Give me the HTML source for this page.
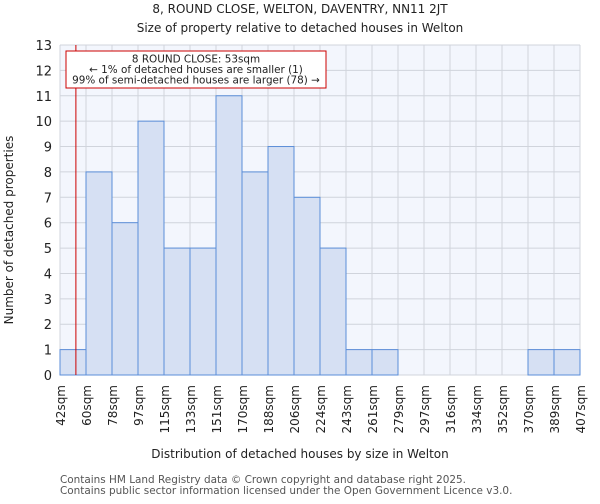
<!DOCTYPE html>
<html><head><meta charset="utf-8"><style>
body{margin:0;background:#fff;font-family:"DejaVu Sans","Liberation Sans",sans-serif;}
</style></head><body>
<svg id="chart" width="600" height="500" xmlns="http://www.w3.org/2000/svg" font-family="DejaVu Sans, Liberation Sans, sans-serif">
<text x="300" y="13" text-anchor="middle" font-size="12" fill="#222">8, ROUND CLOSE, WELTON, DAVENTRY, NN11 2JT</text>
<text x="300" y="32" text-anchor="middle" font-size="12" fill="#222">Size of property relative to detached houses in Welton</text>
<rect x="60" y="45" width="520" height="330" fill="#f3f6fd"/>
<g id="grid"></g>
<g id="bars"></g>
<g id="xticks"></g>
<g id="yticks"></g>
<text x="300" y="458" text-anchor="middle" font-size="12" fill="#222">Distribution of detached houses by size in Welton</text>
<text transform="translate(13,230) rotate(-90)" text-anchor="middle" font-size="12" fill="#222">Number of detached properties</text>
<text x="60" y="483" font-size="10.45" fill="#555">Contains HM Land Registry data © Crown copyright and database right 2025.</text>
<text x="60" y="494" font-size="10.45" fill="#555">Contains public sector information licensed under the Open Government Licence v3.0.</text>
<g id="marker"></g>
</svg>
<script>
const binLabels=["42sqm","60sqm","78sqm","97sqm","115sqm","133sqm","151sqm","170sqm","188sqm","206sqm","224sqm","243sqm","261sqm","279sqm","297sqm","316sqm","334sqm","352sqm","370sqm","389sqm","407sqm"];
const counts=[1,8,6,10,5,5,11,8,9,7,5,1,1,0,0,0,0,0,1,1];
const yTicks=[0,1,2,3,4,5,6,7,8,9,10,11,12,13];
const markerValue=53;
const binStarts=[42,60,78,97,115,133,151,170,188,206,224,243,261,279,297,316,334,352,370,389,407];
const NS="http://www.w3.org/2000/svg";
const X0=60,X1=580,Y0=375,Y1=45,YMAX=13;
const n=counts.length, bw=(X1-X0)/n;
const xe=i=>X0+i*bw;
const y=v=>Y0-(v/YMAX)*(Y0-Y1);
function mk(tag,attrs,parent){const e=document.createElementNS(NS,tag);for(const k in attrs)e.setAttribute(k,attrs[k]);parent.appendChild(e);return e;}
const grid=document.getElementById('grid'),bars=document.getElementById('bars'),xt=document.getElementById('xticks'),yt=document.getElementById('yticks');
yTicks.forEach(t=>{
 const l=mk('line',{x1:X0,x2:X1,y1:y(t),y2:y(t),stroke:'#d0d4dc','stroke-width':1},grid);
 
 
 const tx=mk('text',{x:X0-8,y:y(t)+5,'text-anchor':'end','font-size':13,fill:'#222'},yt);
 tx.textContent=t;
 
 
});
for(let i=0;i<=n;i++){
 const l=mk('line',{x1:xe(i),x2:xe(i),y1:Y1,y2:Y0,stroke:'#d0d4dc','stroke-width':1},grid);
 
 
 const tx=mk('text',{transform:`translate(${xe(i)+5},${Y0+10}) rotate(-90)`,'text-anchor':'end','font-size':12,fill:'#222'},xt);
 tx.textContent=binLabels[i];
 
 
}
counts.forEach((c,i)=>{
 if(c<=0)return;
 const r=mk('rect',{x:xe(i),y:y(c),width:bw,height:Y0-y(c),fill:'#d6e0f3',stroke:'#5b8ed8','stroke-width':1},bars);
 
 
});
let bi=0;while(bi<n-1&&markerValue>=binStarts[bi+1])bi++;
const mx=xe(bi)+(markerValue-binStarts[bi])/(binStarts[bi+1]-binStarts[bi])*bw;
const mg=document.getElementById('marker');
const ml=mk('line',{x1:mx,x2:mx,y1:Y1,y2:Y0,stroke:'#cc0000','stroke-width':1},mg);


const box=mk('rect',{x:66,y:51,width:260,height:37,fill:'#fff',stroke:'#cc0000','stroke-width':1},mg);


["8 ROUND CLOSE: 53sqm","← 1% of detached houses are smaller (1)","99% of semi-detached houses are larger (78) →"].forEach((s,k)=>{
 const t=mk('text',{x:196,y:62.5+k*10.5,'text-anchor':'middle','font-size':10.4,fill:'#222'},mg);
 t.textContent=s;
 
 
});
</script>
</body></html>
